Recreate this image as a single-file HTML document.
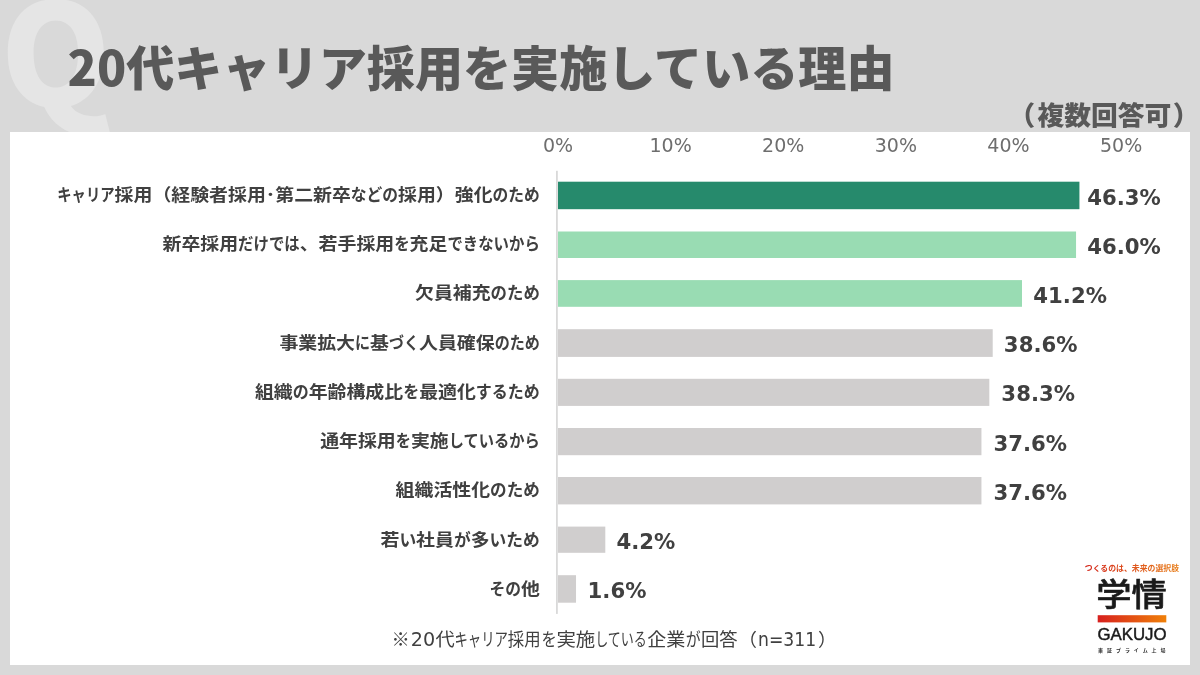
<!DOCTYPE html>
<html lang="ja">
<head>
<meta charset="utf-8">
<title>20代キャリア採用を実施している理由</title>
<style>
html,body{margin:0;padding:0;}
body{width:1200px;height:675px;overflow:hidden;background:#d9d9d9;
  font-family:"Liberation Sans","Noto Sans CJK JP",sans-serif;}
svg{display:block;will-change:transform;}
.jp{font-family:"Noto Sans CJK JP","Liberation Sans",sans-serif;}
.q{font-family:"Noto Sans CJK JP","Liberation Sans",sans-serif;font-weight:900;font-size:140.7px;fill:#e5e5e5;}
.title{font-family:"Noto Sans CJK JP","Liberation Sans",sans-serif;font-weight:900;font-size:48px;fill:#595959;}
.multi{font-family:"Noto Sans CJK JP","Liberation Sans",sans-serif;font-weight:900;font-size:26.7px;fill:#595959;}
.lbl{font-family:"Noto Sans CJK JP","Liberation Sans",sans-serif;font-weight:700;font-size:17.3px;fill:#404040;}
.val{font-family:"DejaVu Sans","Liberation Sans",sans-serif;font-weight:700;font-size:20.5px;fill:#404040;}
.tick{font-family:"DejaVu Sans","Liberation Sans",sans-serif;font-weight:400;font-size:19px;fill:#6e6e6e;}
.note{font-family:"Noto Sans CJK JP","Liberation Sans",sans-serif;font-weight:400;font-size:18.0px;fill:#404040;}
.noten{font-family:"DejaVu Sans","Liberation Sans",sans-serif;font-weight:400;font-size:18.6px;}
</style>
</head>
<body>
<svg width="1200" height="675" viewBox="0 0 1200 675">
<defs>
<linearGradient id="lg" x1="0" y1="0" x2="1" y2="0"><stop offset="0" stop-color="#d7201e"/><stop offset="1" stop-color="#ef8009"/></linearGradient>
<linearGradient id="tg" gradientUnits="userSpaceOnUse" x1="1084" y1="0" x2="1179" y2="0"><stop offset="0" stop-color="#d4281f"/><stop offset="1" stop-color="#e8801c"/></linearGradient>
</defs>
<rect x="0" y="0" width="1200" height="675" fill="#d9d9d9"/>
<text x="0.6" y="105.7" class="q">Q</text>
<rect x="10" y="132" width="1180" height="533" fill="#ffffff"/>
<text x="67.6" y="86.3" textLength="827.0" lengthAdjust="spacingAndGlyphs" class="title">20代キャリア採用を実施している理由</text>
<text y="124.9" class="multi"><tspan x="1008.4">（</tspan><tspan x="1037.4" textLength="134.0" lengthAdjust="spacingAndGlyphs">複数回答可</tspan><tspan x="1172.8">）</tspan></text>
<text x="558.00" y="152.3" class="tick" text-anchor="middle">0%</text>
<text x="670.62" y="152.3" class="tick" text-anchor="middle">10%</text>
<text x="783.24" y="152.3" class="tick" text-anchor="middle">20%</text>
<text x="895.86" y="152.3" class="tick" text-anchor="middle">30%</text>
<text x="1008.48" y="152.3" class="tick" text-anchor="middle">40%</text>
<text x="1121.10" y="152.3" class="tick" text-anchor="middle">50%</text>
<rect x="556.0" y="170.8" width="1.8" height="443.1" fill="#d9d9d9"/>
<rect x="558.0" y="181.70" width="521.43" height="27.50" fill="#268a6c"/>
<text y="201.02" class="lbl"><tspan x="57.30" textLength="57.30" lengthAdjust="spacingAndGlyphs">キャリア</tspan><tspan x="114.60" textLength="37.80" lengthAdjust="spacingAndGlyphs">採用</tspan><tspan x="152.40" textLength="18.90" lengthAdjust="spacingAndGlyphs">（</tspan><tspan x="171.30" textLength="94.50" lengthAdjust="spacingAndGlyphs">経験者採用</tspan><tspan x="265.80" textLength="9.45" lengthAdjust="spacingAndGlyphs">･</tspan><tspan x="275.25" textLength="75.60" lengthAdjust="spacingAndGlyphs">第二新卒</tspan><tspan x="350.85" textLength="47.23" lengthAdjust="spacingAndGlyphs">などの</tspan><tspan x="398.07" textLength="37.80" lengthAdjust="spacingAndGlyphs">採用</tspan><tspan x="435.87" textLength="18.90" lengthAdjust="spacingAndGlyphs">）</tspan><tspan x="454.77" textLength="37.80" lengthAdjust="spacingAndGlyphs">強化</tspan><tspan x="492.57" textLength="47.23" lengthAdjust="spacingAndGlyphs">のため</tspan></text>
<text x="1087.15" y="204.52" textLength="73.61" lengthAdjust="spacingAndGlyphs" class="val">46.3%</text>
<rect x="558.0" y="231.50" width="518.05" height="26.50" fill="#99dcb3"/>
<text y="250.25" class="lbl"><tspan x="162.50" textLength="75.60" lengthAdjust="spacingAndGlyphs">新卒採用</tspan><tspan x="238.10" textLength="61.60" lengthAdjust="spacingAndGlyphs">だけでは</tspan><tspan x="299.70" textLength="18.90" lengthAdjust="spacingAndGlyphs">、</tspan><tspan x="318.60" textLength="75.60" lengthAdjust="spacingAndGlyphs">若手採用</tspan><tspan x="394.20" textLength="15.40" lengthAdjust="spacingAndGlyphs">を</tspan><tspan x="409.60" textLength="37.80" lengthAdjust="spacingAndGlyphs">充足</tspan><tspan x="447.40" textLength="92.40" lengthAdjust="spacingAndGlyphs">できないから</tspan></text>
<text x="1087.15" y="253.75" textLength="73.61" lengthAdjust="spacingAndGlyphs" class="val">46.0%</text>
<rect x="558.0" y="280.10" width="463.99" height="26.70" fill="#99dcb3"/>
<text y="299.48" class="lbl"><tspan x="415.00" textLength="75.60" lengthAdjust="spacingAndGlyphs">欠員補充</tspan><tspan x="490.60" textLength="49.20" lengthAdjust="spacingAndGlyphs">のため</tspan></text>
<text x="1033.35" y="302.98" textLength="73.61" lengthAdjust="spacingAndGlyphs" class="val">41.2%</text>
<rect x="558.0" y="329.20" width="434.71" height="27.70" fill="#d0cece"/>
<text y="348.72" class="lbl"><tspan x="279.40" textLength="75.60" lengthAdjust="spacingAndGlyphs">事業拡大</tspan><tspan x="355.00" textLength="15.05" lengthAdjust="spacingAndGlyphs">に</tspan><tspan x="370.05" textLength="18.90" lengthAdjust="spacingAndGlyphs">基</tspan><tspan x="388.95" textLength="30.10" lengthAdjust="spacingAndGlyphs">づく</tspan><tspan x="419.05" textLength="75.60" lengthAdjust="spacingAndGlyphs">人員確保</tspan><tspan x="494.65" textLength="45.15" lengthAdjust="spacingAndGlyphs">のため</tspan></text>
<text x="1003.88" y="352.22" textLength="73.61" lengthAdjust="spacingAndGlyphs" class="val">38.6%</text>
<rect x="558.0" y="378.80" width="431.33" height="27.10" fill="#d0cece"/>
<text y="397.95" class="lbl"><tspan x="254.90" textLength="37.80" lengthAdjust="spacingAndGlyphs">組織</tspan><tspan x="292.70" textLength="15.98" lengthAdjust="spacingAndGlyphs">の</tspan><tspan x="308.68" textLength="94.50" lengthAdjust="spacingAndGlyphs">年齢構成比</tspan><tspan x="403.18" textLength="15.98" lengthAdjust="spacingAndGlyphs">を</tspan><tspan x="419.17" textLength="56.70" lengthAdjust="spacingAndGlyphs">最適化</tspan><tspan x="475.87" textLength="63.93" lengthAdjust="spacingAndGlyphs">するため</tspan></text>
<text x="1001.38" y="401.45" textLength="73.61" lengthAdjust="spacingAndGlyphs" class="val">38.3%</text>
<rect x="558.0" y="428.00" width="423.45" height="27.20" fill="#d0cece"/>
<text y="447.18" class="lbl"><tspan x="320.20" textLength="75.60" lengthAdjust="spacingAndGlyphs">通年採用</tspan><tspan x="395.80" textLength="15.17" lengthAdjust="spacingAndGlyphs">を</tspan><tspan x="410.97" textLength="37.80" lengthAdjust="spacingAndGlyphs">実施</tspan><tspan x="448.77" textLength="91.03" lengthAdjust="spacingAndGlyphs">しているから</tspan></text>
<text x="993.48" y="450.68" textLength="73.61" lengthAdjust="spacingAndGlyphs" class="val">37.6%</text>
<rect x="558.0" y="477.00" width="423.45" height="27.40" fill="#d0cece"/>
<text y="496.42" class="lbl"><tspan x="395.60" textLength="94.50" lengthAdjust="spacingAndGlyphs">組織活性化</tspan><tspan x="490.10" textLength="49.70" lengthAdjust="spacingAndGlyphs">のため</tspan></text>
<text x="993.48" y="499.92" textLength="73.61" lengthAdjust="spacingAndGlyphs" class="val">37.6%</text>
<rect x="558.0" y="526.60" width="47.30" height="26.20" fill="#d0cece"/>
<text y="545.65" class="lbl"><tspan x="380.50" textLength="18.90" lengthAdjust="spacingAndGlyphs">若</tspan><tspan x="399.40" textLength="16.74" lengthAdjust="spacingAndGlyphs">い</tspan><tspan x="416.14" textLength="37.80" lengthAdjust="spacingAndGlyphs">社員</tspan><tspan x="453.94" textLength="16.74" lengthAdjust="spacingAndGlyphs">が</tspan><tspan x="470.68" textLength="18.90" lengthAdjust="spacingAndGlyphs">多</tspan><tspan x="489.58" textLength="50.22" lengthAdjust="spacingAndGlyphs">いため</tspan></text>
<text x="616.45" y="549.15" textLength="58.85" lengthAdjust="spacingAndGlyphs" class="val">4.2%</text>
<rect x="558.0" y="575.20" width="18.02" height="27.50" fill="#d0cece"/>
<text y="594.88" class="lbl"><tspan x="489.40" textLength="31.50" lengthAdjust="spacingAndGlyphs">その</tspan><tspan x="520.90" textLength="18.90" lengthAdjust="spacingAndGlyphs">他</tspan></text>
<text x="587.60" y="598.38" textLength="58.85" lengthAdjust="spacingAndGlyphs" class="val">1.6%</text>
<text y="645.90" class="note"><tspan x="391.57" textLength="18.25" lengthAdjust="spacingAndGlyphs">※</tspan><tspan x="410.80" textLength="24.40" lengthAdjust="spacingAndGlyphs" class="noten">20</tspan><tspan x="435.40" textLength="19.20" lengthAdjust="spacingAndGlyphs">代</tspan><tspan x="454.40" textLength="53.60" lengthAdjust="spacingAndGlyphs">キャリア</tspan><tspan x="507.80" textLength="32.80" lengthAdjust="spacingAndGlyphs">採用</tspan><tspan x="541.40" textLength="15.20" lengthAdjust="spacingAndGlyphs">を</tspan><tspan x="556.40" textLength="38.80" lengthAdjust="spacingAndGlyphs">実施</tspan><tspan x="595.20" textLength="51.65" lengthAdjust="spacingAndGlyphs">している</tspan><tspan x="647.30" textLength="38.10" lengthAdjust="spacingAndGlyphs">企業</tspan><tspan x="685.65" textLength="14.95" lengthAdjust="spacingAndGlyphs">が</tspan><tspan x="700.90" textLength="36.60" lengthAdjust="spacingAndGlyphs">回答</tspan><tspan x="738.20" textLength="18.70" lengthAdjust="spacingAndGlyphs">（</tspan><tspan x="758.00" textLength="58.20" lengthAdjust="spacingAndGlyphs" class="noten">n=311</tspan><tspan x="817.90" textLength="18.70" lengthAdjust="spacingAndGlyphs">）</tspan></text>
<g>
<text x="1084.8" y="571.0" textLength="94.2" lengthAdjust="spacingAndGlyphs" fill="url(#tg)" class="jp" style="font-weight:700;font-size:7.8px">つくるのは、未来の選択肢</text>
<text x="1096.3" y="606.3" textLength="70.6" lengthAdjust="spacingAndGlyphs" fill="#1a1a1a" stroke="#1a1a1a" stroke-width="0.6" class="jp" style="font-weight:500;font-size:32px">学情</text>
<rect x="1097.7" y="615.2" width="68.6" height="7.2" fill="url(#lg)"/>
<text x="1097.4" y="639.9" textLength="69.2" lengthAdjust="spacingAndGlyphs" fill="#1a1a1a" stroke="#1a1a1a" stroke-width="0.45" style="font-family:'Liberation Sans',sans-serif;font-weight:400;font-size:16.6px">GAKUJO</text>
<text x="1098.1" y="652.0" textLength="67.4" lengthAdjust="spacing" fill="#2a2a2a" class="jp" style="font-weight:700;font-size:5px">東証プライム上場</text>
</g>
</svg>
</body>
</html>
